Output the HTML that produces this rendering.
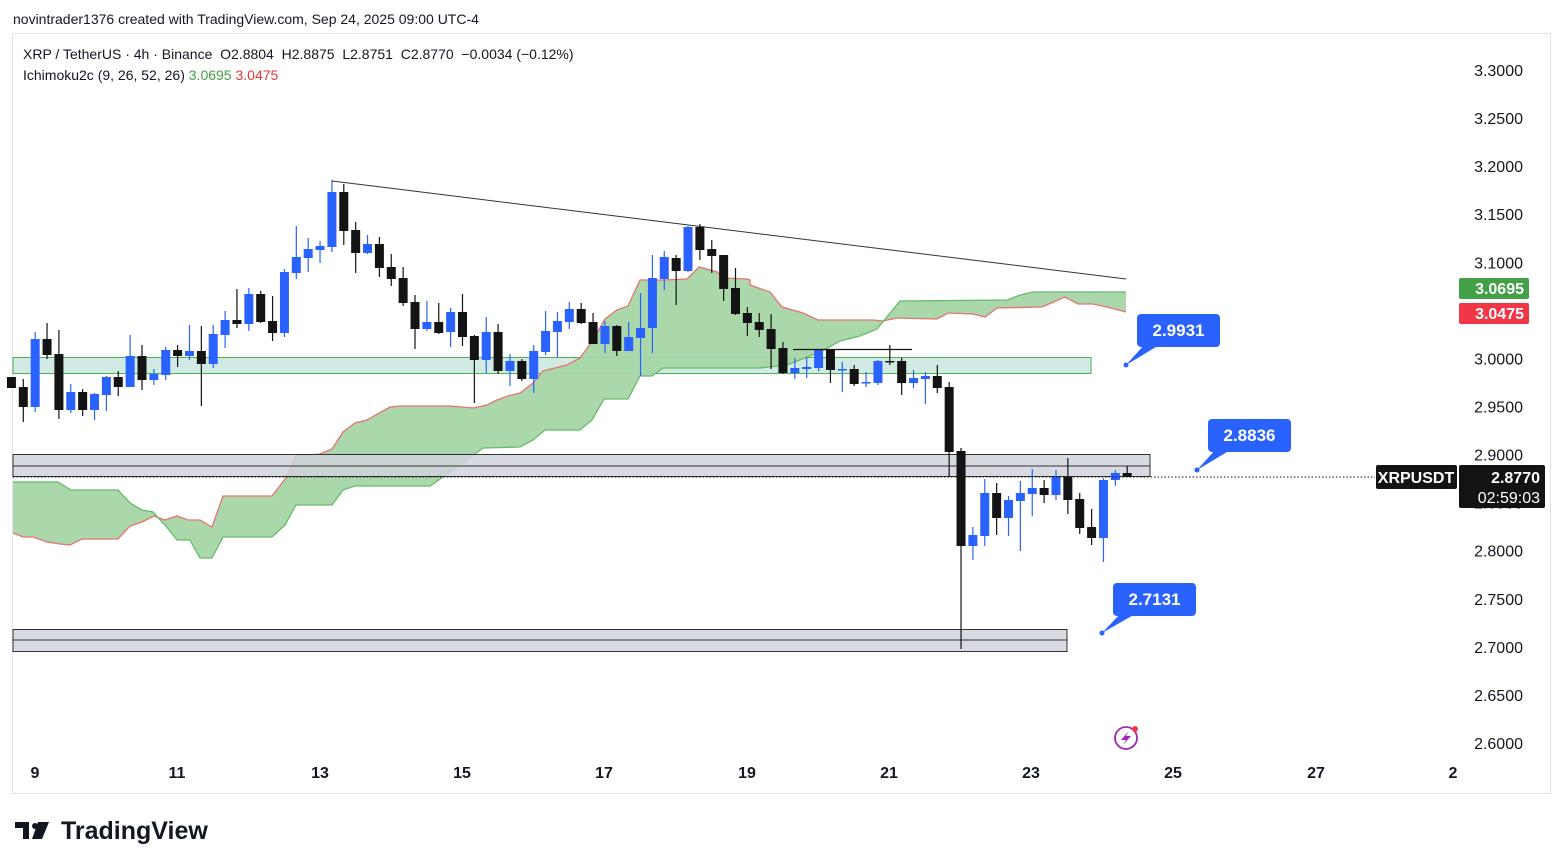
<!DOCTYPE html>
<html><head><meta charset="utf-8">
<style>
body{margin:0;background:#fff;width:1563px;height:868px;overflow:hidden;font-family:"Liberation Sans",sans-serif;}
svg{position:absolute;left:0;top:0}
</style></head><body>
<svg id="s" width="1563" height="868" xmlns="http://www.w3.org/2000/svg" font-family="Liberation Sans, sans-serif">
<rect x="0" y="0" width="1563" height="868" fill="#fff"/>
<rect x="12.5" y="33.5" width="1538" height="760" fill="none" stroke="#e0e3eb"/>
<text x="13" y="24" font-size="14" fill="#131722">novintrader1376 created with TradingView.com, Sep 24, 2025 09:00 UTC-4</text>
<text x="23" y="59" font-size="14" fill="#131722">XRP / TetherUS · 4h · Binance &#160;O2.8804 &#160;H2.8875 &#160;L2.8751 &#160;C2.8770 &#160;−0.0034 (−0.12%)</text>
<text x="23" y="80" font-size="14" fill="#131722">Ichimoku2c (9, 26, 52, 26) <tspan fill="#43a047">3.0695</tspan> <tspan fill="#e53935">3.0475</tspan></text>
<g id="bands"></g>
<g id="cloud"></g>
<g id="grey"></g>
<g id="candles"></g>
<g id="over"></g>
</svg>
<script>
const NS="http://www.w3.org/2000/svg";
function el(p,t,a,txt){const e=document.createElementNS(NS,t);for(const k in a)e.setAttribute(k,a[k]);if(txt!==undefined)e.textContent=txt;document.getElementById(p).appendChild(e);return e;}
const red=[[13,533],[23,537],[33,537],[47,542],[60,544],[70,545],[82,539],[118,539],[130,526],[142,522],[154,516],[165,520],[177,516],[188,520],[200,520],[212,527],[223,496],[272,496],[285,479],[296,456],[320,454],[332,449],[343,432],[355,423],[367,420],[390,407],[400,406],[450,406],[473,408],[487,405],[497,400],[508,396],[520,393],[533,383],[543,371],[567,365],[580,358],[593,340],[605,319],[617,310],[628,306],[640,280],[663,280],[687,279],[699,267],[717,272],[723,278],[747,279],[750,280],[750,285],[770,292],[782,307],[803,313],[818,320],[873,320],[883,321],[897,318],[937,319],[948,313],[973,314],[985,317],[997,308],[1042,307],[1065,297],[1078,304],[1093,304],[1107,307],[1126,312]];
const grn=[[1126,292],[1033,292],[1020,295],[1007,300],[900,301],[877,329],[860,336],[840,341],[820,352],[787,365],[760,368],[663,368],[652,376],[640,376],[628,399],[604,399],[592,420],[580,430],[545,430],[533,440],[520,447],[483,448],[460,465],[430,486],[355,486],[343,490],[332,505],[296,505],[285,525],[272,537],[223,537],[212,558],[200,558],[190,540],[177,540],[165,525],[153,512],[142,510],[130,503],[118,490],[71,490],[58,482],[13,482]];
el("cloud","polygon",{points:red.concat(grn).map(p=>p.join(",")).join(" "),fill:"#a5d6a7","fill-opacity":"0.95"});
el("cloud","polyline",{points:red.map(p=>p.join(",")).join(" "),fill:"none",stroke:"#e57373","stroke-width":"1.3"});
el("cloud","polyline",{points:grn.map(p=>p.join(",")).join(" "),fill:"none",stroke:"#66bb6a","stroke-width":"1.3"});
el("bands","rect",{x:13,y:357.5,width:1078,height:16,fill:"#d1ebe4",stroke:"#4caf50","stroke-width":"1"});
const g="grey";
el(g,"rect",{x:13,y:454.5,width:1137,height:22,fill:"#d1d4dc","fill-opacity":"0.85",stroke:"#333","stroke-width":"1"});
el(g,"line",{x1:13,y1:466,x2:1150,y2:466,stroke:"#333","stroke-width":"1"});
el(g,"rect",{x:13,y:629.5,width:1054,height:22,fill:"#d1d4dc","fill-opacity":"0.85",stroke:"#333","stroke-width":"1"});
el(g,"line",{x1:13,y1:640,x2:1067,y2:640,stroke:"#333","stroke-width":"1"});
const C=[
["k",377,388,377,388],
["k",387,407,379,422],["b",339,407,332,412],["k",339,355,323,359],["k",354,410,330,419],["b",392,410,384,413],["k",392,410,389,416],["b",394,410,393,420],["b",377,395,376,411],["k",377,387,371,396],["b",356,387,335,387],
["k",356,380,345,390],["b",374,380,369,385],["b",350,375,347,380],["k",350,356,345,367],["b",351,356,325,360],["k",351,364,326,406],["b",334,364,325,368],["b",320,335,311,348],["k",320,324,289,328],["b",294,324,288,331],
["k",294,322,291,323],["k",321,333,296,341],["b",272,333,269,337],["b",257,273,226,279],["b",249,258,238,272],["b",246,250,241,263],["b",192,247,180,252],["k",192,231,184,245],["k",230,253,222,273],["b",244,253,235,254],
["k",244,268,237,277],["k",267,279,254,286],["k",278,303,267,306],["k",302,329,295,349],["b",322,329,301,331],["k",322,333,303,334],["b",312,332,308,347],["k",312,337,294,346],["k",336,360,335,403],["b",332,360,317,373],
["k",332,371,324,374],["b",361,371,354,386],["k",361,379,359,381],["b",351,379,345,393],["b",331,352,311,355],["b",321,332,312,357],["b",309,322,302,329],["k",309,323,303,324],["k",322,344,313,344],["b",326,344,321,353],
["k",326,351,325,356],["b",337,351,322,351],["b",328,338,293,376],["b",278,328,255,353],["b",257,279,251,290],["k",258,271,255,305],["b",227,271,226,272],["k",227,250,224,260],["k",249,256,240,273],["k",255,289,255,301],
["k",288,314,268,315],["k",313,323,307,336],["k",322,330,313,337],["k",329,349,314,369],["k",348,373,342,374],["b",368,373,358,379],["b",367,369,357,378],["b",350,368,349,371],["k",349,370,349,383],["b",369,370,362,392],
["k",369,384,365,386],["b",382,383,372,387],["b",361,383,360,385],["k",361,362,345,365],["k",361,383,358,395],["b",378,383,370,388],["b",376,379,372,404],["k",376,388,365,393],["k",387,452,382,477],["k",451,546,448,649],
["b",535,546,527,560],["b",493,536,479,546],["k",493,518,483,535],["b",500,518,496,536],["b",493,501,481,551],["b",488,494,469,516],["k",488,495,480,503],["b",477,495,470,500],["k",477,500,458,514],["k",499,528,493,534],
["k",527,538,509,545],["b",480,538,478,562],["b",473,480,470,486],["k",473,477,466,477]];
C.forEach((c,i)=>{const x=23.3+(i-1)*11.87;const col=c[0]=="b"?"#2962ff":"#131313";
el("candles","line",{x1:x,y1:c[3],x2:x,y2:c[4],stroke:col,"stroke-width":"1.2"});
let h=Math.max(1.5,c[2]-c[1]);el("candles","rect",{x:x-4.5,y:c[1],width:9,height:h,fill:col});});
const o="over";
el(o,"line",{x1:13,y1:477,x2:1375,y2:477,stroke:"#131313","stroke-width":"1","stroke-dasharray":"1.5 2"});
el(o,"line",{x1:793,y1:349.5,x2:912,y2:349.5,stroke:"#131313","stroke-width":"1.2"});
el(o,"line",{x1:332,y1:181,x2:1126,y2:279,stroke:"#333","stroke-width":"1"});
function call(bx,by,t,px,py){el(o,"path",{d:`M${bx+8},${by+30} L${px},${py} L${bx+24},${by+30} Z`,fill:"#2962ff"});
el(o,"rect",{x:bx,y:by,width:83,height:33,rx:4,fill:"#2962ff"});el(o,"circle",{cx:px,cy:py,r:2.5,fill:"#2962ff"});
el(o,"text",{x:bx+41.5,y:by+22,"font-size":"17","font-weight":"bold",fill:"#fff","text-anchor":"middle"},t);}
call(1137,314,"2.9931",1126,365);call(1208,419,"2.8836",1197,470);call(1113,583,"2.7131",1102,633);
for(let i=0;i<15;i++){const v=(3.3-i*0.05).toFixed(4);const y=70+i*48.07;el(o,"text",{x:1523,y:y+6,"font-size":"16","text-anchor":"end",fill:"#131722"},v);}
[["9",35],["11",177],["13",320],["15",462],["17",604],["19",747],["21",889],["23",1031],["25",1173],["27",1316],["2",1453]].forEach(a=>el(o,"text",{x:a[1],y:778,"font-size":"16","font-weight":"bold","text-anchor":"middle",fill:"#131722"},a[0]));
el(o,"rect",{x:1459,y:278,width:70,height:21,rx:2,fill:"#43a047"});el(o,"text",{x:1524,y:294,"font-size":"16","font-weight":"bold","text-anchor":"end",fill:"#fff"},"3.0695");
el(o,"rect",{x:1459,y:303,width:70,height:21,rx:2,fill:"#f23645"});el(o,"text",{x:1524,y:319,"font-size":"16","font-weight":"bold","text-anchor":"end",fill:"#fff"},"3.0475");
el(o,"rect",{x:1376,y:465,width:81,height:24,rx:2,fill:"#131313"});el(o,"text",{x:1416,y:483,"font-size":"16","font-weight":"bold","text-anchor":"middle",fill:"#fff"},"XRPUSDT");
el(o,"rect",{x:1459,y:465,width:86,height:43,rx:2,fill:"#131313"});el(o,"text",{x:1540,y:483,"font-size":"16","font-weight":"bold","text-anchor":"end",fill:"#fff"},"2.8770");
el(o,"text",{x:1540,y:503,"font-size":"16","text-anchor":"end",fill:"#fff"},"02:59:03");
el(o,"circle",{cx:1126,cy:738,r:11,fill:"none",stroke:"#9c27b0","stroke-width":"1.8"});
el(o,"path",{d:"M1129,731 L1121,740 L1126,740 L1123,745 L1131,736 L1126,736 Z",fill:"#9c27b0"});
el(o,"circle",{cx:1135,cy:729,r:3,fill:"#f23645"});
el(o,"text",{x:61,y:839,"font-size":"25","font-weight":"bold",fill:"#131722"},"TradingView");
el(o,"path",{d:"M15,822 h14 v17 h-6 v-11 h-8 Z M38,822 h11 l-7,17 h-10 Z",fill:"#131722"});
el(o,"circle",{cx:35,cy:826,r:3,fill:"#131722"});
</script>
</body></html>
